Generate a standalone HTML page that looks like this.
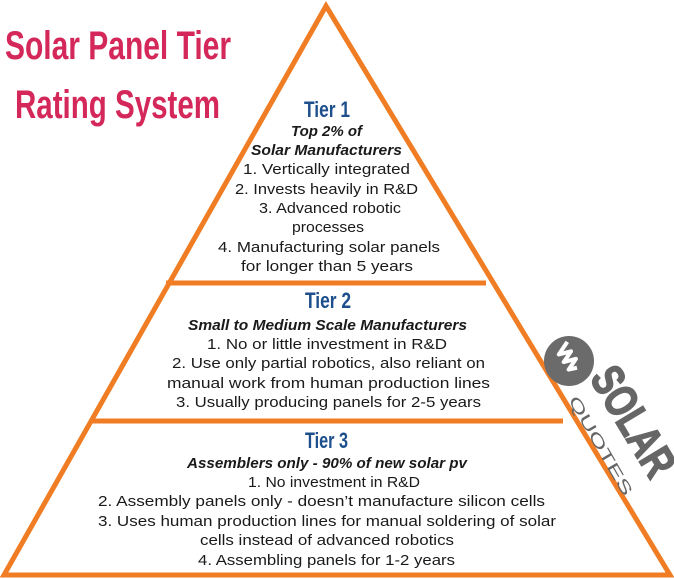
<!DOCTYPE html>
<html><head><meta charset="utf-8"><style>
html,body{margin:0;padding:0;background:#fff;width:674px;height:579px;overflow:hidden}
svg{display:block}
.t{font-family:"Liberation Sans",sans-serif;fill:#1a1a1a;font-size:15px}
.i{font-style:italic;font-weight:bold}
.h{font-family:"Liberation Sans",sans-serif;font-weight:bold;fill:#1d4f8c;font-size:22px}
.title{font-family:"Liberation Sans",sans-serif;font-weight:bold;fill:#d4285a;font-size:40px}
</style></head><body>
<svg width="674" height="579" viewBox="0 0 674 579">
<text class="title" x="5" y="59" textLength="226" lengthAdjust="spacingAndGlyphs">Solar Panel Tier</text>
<text class="title" x="15" y="118" textLength="205" lengthAdjust="spacingAndGlyphs">Rating System</text>

<g stroke="#f07d23" stroke-width="5" fill="none" stroke-linejoin="miter">
<polygon points="326,6 4,575 670,575"/>
<line x1="166" y1="283" x2="486" y2="283"/>
<line x1="90" y1="421" x2="563" y2="421"/>
</g>

<g>
<circle cx="569" cy="361" r="25" fill="#6b6b6b"/>
<path d="M552,352 l6,14 l4,-12 l5,12 l4,-12 l5,12 l3,-8" stroke="#fff" stroke-width="4" fill="none" stroke-linejoin="round" transform="rotate(57 569 361)"/>
<text x="0" y="0" transform="translate(589,378) rotate(59)" font-family="Liberation Sans,sans-serif" font-weight="bold" font-size="46" fill="#666" stroke="#666" stroke-width="1.5" textLength="120" lengthAdjust="spacingAndGlyphs">SOLAR</text>
<text x="0" y="0" transform="translate(568,400) rotate(60)" font-family="Liberation Sans,sans-serif" font-size="16" fill="#666" textLength="112" lengthAdjust="spacingAndGlyphs">QUOTES</text>
</g>

<g>
<text class="h" x="304" y="117" textLength="46" lengthAdjust="spacingAndGlyphs">Tier 1</text>
<text class="t i" x="291" y="136" textLength="71" lengthAdjust="spacingAndGlyphs">Top 2% of</text>
<text class="t i" x="251" y="155" textLength="151" lengthAdjust="spacingAndGlyphs">Solar Manufacturers</text>
<text class="t" x="243" y="174" textLength="167" lengthAdjust="spacingAndGlyphs">1. Vertically integrated</text>
<text class="t" x="235" y="194" textLength="183" lengthAdjust="spacingAndGlyphs">2. Invests heavily in R&amp;D</text>
<text class="t" x="259" y="213" textLength="142" lengthAdjust="spacingAndGlyphs">3. Advanced robotic</text>
<text class="t" x="292" y="232" textLength="72" lengthAdjust="spacingAndGlyphs">processes</text>
<text class="t" x="218" y="252" textLength="222" lengthAdjust="spacingAndGlyphs">4. Manufacturing solar panels</text>
<text class="t" x="241" y="271" textLength="172" lengthAdjust="spacingAndGlyphs">for longer than 5 years</text>
</g>

<g>
<text class="h" x="305" y="308" textLength="46" lengthAdjust="spacingAndGlyphs">Tier 2</text>
<text class="t i" x="188" y="330" textLength="279" lengthAdjust="spacingAndGlyphs">Small to Medium Scale Manufacturers</text>
<text class="t" x="207" y="349" textLength="240" lengthAdjust="spacingAndGlyphs">1. No or little investment in R&amp;D</text>
<text class="t" x="172" y="368" textLength="313" lengthAdjust="spacingAndGlyphs">2. Use only partial robotics, also reliant on</text>
<text class="t" x="167" y="388" textLength="323" lengthAdjust="spacingAndGlyphs">manual work from human production lines</text>
<text class="t" x="176" y="407" textLength="305" lengthAdjust="spacingAndGlyphs">3. Usually producing panels for 2-5 years</text>
</g>

<g>
<text class="h" x="305" y="448" textLength="43" lengthAdjust="spacingAndGlyphs">Tier 3</text>
<text class="t i" x="187" y="468" textLength="280" lengthAdjust="spacingAndGlyphs">Assemblers only - 90% of new solar pv</text>
<text class="t" x="248" y="487" textLength="172" lengthAdjust="spacingAndGlyphs">1. No  investment in R&amp;D</text>
<text class="t" x="98" y="506" textLength="447" lengthAdjust="spacingAndGlyphs">2. Assembly panels only - doesn’t manufacture silicon cells</text>
<text class="t" x="98" y="526" textLength="458" lengthAdjust="spacingAndGlyphs">3. Uses human production lines for manual soldering of solar</text>
<text class="t" x="200" y="545" textLength="254" lengthAdjust="spacingAndGlyphs">cells instead of advanced robotics</text>
<text class="t" x="198" y="565" textLength="257" lengthAdjust="spacingAndGlyphs">4. Assembling panels for 1-2 years</text>
</g>
</svg>
</body></html>
